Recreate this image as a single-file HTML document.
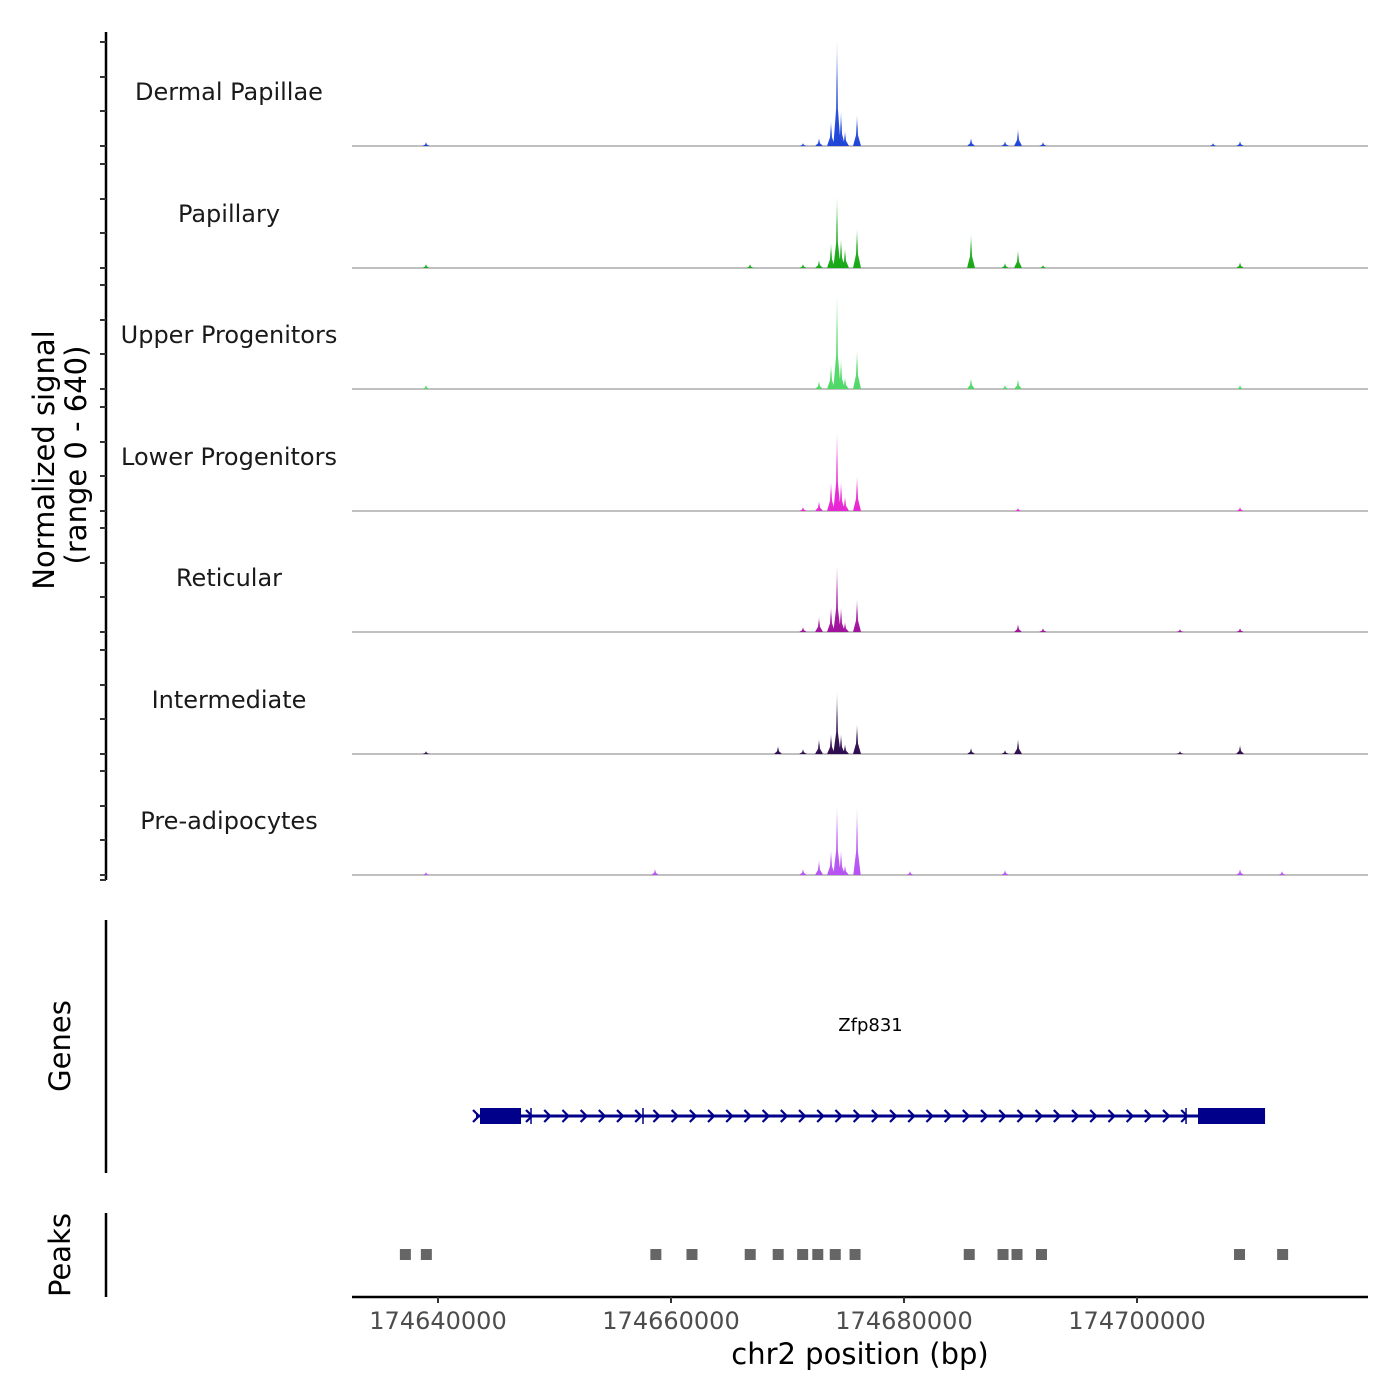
<!DOCTYPE html>
<html><head><meta charset="utf-8"><style>
html,body{margin:0;padding:0;background:#fff}
svg{display:block;font-family:"DejaVu Sans","Liberation Sans",sans-serif}
</style></head><body>
<svg id="chart" width="1400" height="1400" viewBox="0 0 1400 1400">
<defs id="defs"></defs>
<g id="tracks"></g>
<g id="left-axes"></g>
<text transform="translate(54,460) rotate(-90)" text-anchor="middle" font-size="29" fill="#000">Normalized signal</text>
<text transform="translate(86,455) rotate(-90)" text-anchor="middle" font-size="29" fill="#000">(range 0 - 640)</text>
<text transform="translate(70,1046) rotate(-90)" text-anchor="middle" font-size="29" fill="#000">Genes</text>
<text transform="translate(70,1255) rotate(-90)" text-anchor="middle" font-size="29" fill="#000">Peaks</text>
<g id="genes"></g>
<g id="peaks"></g>
<g id="xaxis"></g>
<text x="860" y="1364" text-anchor="middle" font-size="29" fill="#000">chr2 position (bp)</text>
</svg>
<script>
const trackNames = ["Dermal Papillae","Papillary","Upper Progenitors","Lower Progenitors","Reticular","Intermediate","Pre-adipocytes"];
const trackColors = ["#1f45d8","#17a817","#4fd866","#e824d4","#a0129c","#2e0b4e","#b652f2"];
const peakPositions = [174638970,174658627,174666782,174669186,174671332,174672705,174673735,174674250,174674594,174674937,174675967,174680516,174685753,174688671,174689787,174691933,174703693,174706526,174708844,174712449];
const sigDP  = [24,0,0,0,18,48,150,640,210,90,187,0,48,30,103,24,0,18,30,0];
const sigPap = [24,0,24,0,24,48,150,435,180,120,240,0,205,30,109,18,0,0,36,0];
const sigUP  = [24,0,0,0,0,48,150,580,180,72,235,0,66,24,60,0,0,0,24,0];
const sigLP  = [0,0,0,0,24,60,180,483,180,90,211,0,0,0,18,0,0,0,24,0];
const sigRet = [0,0,0,0,30,90,150,405,150,60,199,0,0,0,48,24,18,0,24,0];
const sigInt = [18,0,0,48,30,90,120,374,120,60,181,0,36,24,90,0,18,0,54,0];
const sigPre = [18,36,0,0,36,90,150,423,150,60,410,24,0,30,0,0,0,0,36,24];
const signals = [sigDP,sigPap,sigUP,sigLP,sigRet,sigInt,sigPre];
const peakRegions = [174637200,174639000,174658700,174661800,174666800,174669200,174671300,174672600,174674100,174675800,174685600,174688500,174689700,174691800,174708800,174712500];
const xTicks = [174640000,174660000,174680000,174700000];
const geneStart = 174643262, thickEnd1 = 174647125, thickStart2 = 174705238, geneEnd = 174710990;
const geneName = "Zfp831";

const NS="http://www.w3.org/2000/svg";
const X0=352, X1=1368, BP0=174632618, BP1=174719828;
const xs = bp => X0 + (bp-BP0)/(BP1-BP0)*(X1-X0);
const baselines=[146,268,389,511,632,754,875];
const ys = (v,b) => b - v/640*106;
function el(tag,attrs,parent){const e=document.createElementNS(NS,tag);for(const k in attrs)e.setAttribute(k,attrs[k]);parent.appendChild(e);return e;}
const defs=document.getElementById('defs');
const tracks=document.getElementById('tracks');
trackColors.forEach((c,i)=>{
  const g=el('linearGradient',{id:'g'+i,x1:0,y1:1,x2:0,y2:0},defs);
  el('stop',{offset:'0','stop-color':c,'stop-opacity':1},g);
  el('stop',{offset:'0.6','stop-color':c,'stop-opacity':0.9},g);
  el('stop',{offset:'1','stop-color':c,'stop-opacity':0.35},g);
});
signals.forEach((arr,i)=>{
  const b=baselines[i];
  const g=el('g',{},tracks);
  
  
  const lab=el('text',{x:229,y:b-46,'text-anchor':'middle','font-size':24,fill:'#1a1a1a'},g);
  lab.textContent=trackNames[i];
  
  
  const bl=el('line',{x1:X0,x2:X1,y1:b,y2:b,stroke:'#808080','stroke-width':1},g);
  
  
  arr.forEach((v,j)=>{
    if(!v)return;
    const x=xs(peakPositions[j]);const y=ys(v,b);
    const w=v>300?2.2:2.5;
    const p=el('path',{d:`M${x-w-1.5},${b} L${x-w*0.4},${b-(b-y)*0.35} L${x},${y} L${x+w*0.4},${b-(b-y)*0.35} L${x+w+1.5},${b} Z`,fill:'url(#g'+i+')'},g);
    
    
  });
});
const la=document.getElementById('left-axes');
el('line',{x1:106,x2:106,y1:32,y2:880,stroke:'#000','stroke-width':2.5},la);
el('line',{x1:106,x2:106,y1:920,y2:1173,stroke:'#000','stroke-width':2.5},la);
el('line',{x1:106,x2:106,y1:1213,y2:1297,stroke:'#000','stroke-width':2.5},la);
baselines.forEach(b=>{[0,35,69,104].forEach(o=>{if(b-o<32)return;el('line',{x1:100,x2:106,y1:b-o,y2:b-o,stroke:'#333','stroke-width':2},la);});});
el('line',{x1:100,x2:106,y1:880,y2:880,stroke:'#333','stroke-width':2},la);
// genes
const gg=document.getElementById('genes');
const gy=1116;
const gl=el('line',{x1:xs(geneStart),x2:xs(geneEnd),y1:gy,y2:gy,stroke:'#00008b','stroke-width':3},gg);


const e1=el('rect',{x:xs(geneStart)+4,y:gy-8,width:xs(thickEnd1)-xs(geneStart)-4,height:16,fill:'#00008b'},gg);


const e2=el('rect',{x:xs(thickStart2),y:gy-8,width:xs(geneEnd)-xs(thickStart2),height:16,fill:'#00008b'},gg);


for(let x=xs(thickEnd1)+8;x<xs(thickStart2)-6;x+=18.2){
  el('path',{d:`M${x-3},${gy-6} L${x+3},${gy} L${x-3},${gy+6}`,stroke:'#00008b','stroke-width':2.2,fill:'none'},gg);
}
[xs(thickEnd1)+10, xs(thickStart2)-12, 643].forEach(x=>{el('line',{x1:x,x2:x,y1:gy-8,y2:gy+8,stroke:'#00008b','stroke-width':1.5},gg);});
el('path',{d:`M${xs(geneStart)-3},${gy-6} L${xs(geneStart)+3},${gy} L${xs(geneStart)-3},${gy+6}`,stroke:'#00008b','stroke-width':2.2,fill:'none'},gg);
const gt=el('text',{x:(xs(geneStart)+xs(geneEnd))/2,y:1031,'text-anchor':'middle','font-size':18,fill:'#000'},gg);
gt.textContent=geneName;


// peaks
const pg=document.getElementById('peaks');
peakRegions.forEach(p=>{
  const r=el('rect',{x:xs(p)-5.5,y:1249,width:11,height:11,fill:'#666'},pg);
  
  
});
// x axis
const xa=document.getElementById('xaxis');
el('line',{x1:X0,x2:X1,y1:1297,y2:1297,stroke:'#000','stroke-width':2.5},xa);
xTicks.forEach(t=>{
  const x=xs(t);
  el('line',{x1:x,x2:x,y1:1297,y2:1303,stroke:'#333','stroke-width':2},xa);
  const tx=el('text',{x:x,y:1329,'text-anchor':'middle','font-size':24,fill:'#4d4d4d'},xa);
  tx.textContent=t;
  
  
});
</script>
</body></html>
